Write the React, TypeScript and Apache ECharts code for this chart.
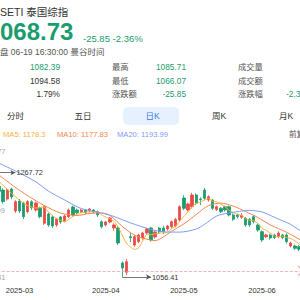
import React, { useEffect, useRef } from "react";
import * as echarts from "echarts";

const dates = [
  "2025-02-13","2025-02-14","2025-02-17","2025-02-18","2025-02-19","2025-02-20","2025-02-21","2025-02-24","2025-02-25","2025-02-26","2025-02-27","2025-02-28",
  "2025-03-03","2025-03-04","2025-03-05","2025-03-06","2025-03-07","2025-03-10","2025-03-11","2025-03-12","2025-03-13","2025-03-14","2025-03-17","2025-03-18","2025-03-19","2025-03-20","2025-03-21","2025-03-24","2025-03-25","2025-03-26","2025-03-27","2025-03-28","2025-03-31",
  "2025-04-01","2025-04-02","2025-04-03","2025-04-04","2025-04-08","2025-04-09","2025-04-10","2025-04-11","2025-04-16","2025-04-17","2025-04-18","2025-04-21","2025-04-22","2025-04-23","2025-04-24","2025-04-25","2025-04-28","2025-04-29","2025-04-30",
  "2025-05-02","2025-05-06","2025-05-07","2025-05-08","2025-05-09","2025-05-13","2025-05-14","2025-05-15","2025-05-16","2025-05-19","2025-05-20","2025-05-21","2025-05-22","2025-05-23","2025-05-26","2025-05-27","2025-05-28","2025-05-29","2025-05-30",
  "2025-06-02","2025-06-04","2025-06-05","2025-06-06","2025-06-09","2025-06-10","2025-06-11","2025-06-12","2025-06-13","2025-06-16","2025-06-17","2025-06-18","2025-06-19",
];

const opens = [1262,1255,1258,1252,1259,1260,1249,1240,1232.6,1214.4,1234.6,1190.1,
  1210.4,1206.3,1188.7,1208.9,1192.1,1196.2,1165.2,1184,1178,1161.8,1178,1170.4,1178.6,1198.2,1192.1,1188.5,1192.1,1190.1,1192.1,1188.5,1168.4,
  1161.8,1167.8,1155.7,1155.7,1084.8,1066,1138,1121.2,1128,1135.4,1145.5,1155.7,1137.5,1155.7,1155.5,1153.6,1158.3,1159.7,1171.9,
  1216.4,1192.1,1198.8,1222.5,1214.4,1232.6,1212.4,1212.4,1193.1,1195.6,1198.8,1198.8,1182,1182,1177.5,1175.3,1173.3,1178.6,1161.8,
  1148.2,1138.1,1141.5,1141.5,1138.1,1141.5,1141.5,1119.2,1119.2,1117.8,1112,1102,1082.39];
const closes = [1255,1260,1252,1259,1262,1250,1243,1230,1209,1232.6,1218.4,1208.9,
  1190.1,1178.6,1208.9,1196.2,1206.3,1178.6,1198.8,1161.8,1159.7,1173.9,1167.8,1180,1192.1,1182,1186.7,1192.1,1186.7,1194.1,1188.1,1182,1158.3,
  1167.9,1175.9,1161.8,1125.3,1074.7,1087.4,1136,1138.1,1141.5,1145.5,1153.6,1131.4,1147.6,1147.6,1148,1159.7,1168.4,1173.3,1198.8,
  1195.6,1204.3,1222.5,1205.7,1213,1215.8,1219.1,1195.6,1198.8,1188.7,1192.1,1182,1173.3,1178.6,1181,1161.8,1161.8,1168.4,1151.6,
  1131.4,1141.5,1135.4,1136.4,1145.5,1136.4,1127.9,1125.3,1114.6,1112.5,1103,1094.58,1068.73];
const lows = [1250,1250,1247,1249,1254,1246,1238,1226,1205,1211,1214,1186,
  1186,1173.9,1185,1192,1189,1175,1162,1158,1156,1158,1164,1167,1176,1179,1184,1186,1184,1187,1185,1178,1155,
  1159,1165,1150,1121,1056.41,1060,1127,1118,1125,1132,1142,1128,1134,1144,1143,1150,1155,1157,1169,
  1192,1189,1195,1202,1202,1212,1209,1192,1190,1186,1189,1179,1170,1175,1174,1158,1158,1165,1148,
  1127,1135,1132,1133,1135,1133,1124,1116,1111,1109,1099,1090,1066.07];
const highs = [1265,1263,1262,1262,1267.72,1263,1252,1243,1236,1236,1237.3,1212,
  1214.4,1209,1212,1212,1209,1199,1201,1187,1181,1176,1180,1183,1195,1201,1195,1194,1194,1196,1194,1191,1171,
  1170,1178,1165,1160,1088,1093,1146,1141,1144,1148,1156,1158,1150,1158,1160,1162,1171,1176,1202,
  1222,1207,1227,1226,1218,1236.7,1222,1214,1201,1198,1201,1201,1185,1185,1186,1178,1176,1182,1165,
  1151,1144,1144,1144,1149,1144,1145,1128,1122,1121,1115,1106,1085.71];

// moving averages: [candle index, value]
const ma5 = [[7,1250],[10,1226.6],[12,1211.8],[14,1201],[16,1196],[18,1197.8],[19,1188.3],[21,1174.6],[23,1168.6],[25,1179.2],[27,1186.6],[29,1188.3],[31,1188.6],[32,1181.8],[33,1178],[34,1174.4],[35,1169],[36,1157.8],[37,1141.1],[38,1125],[39,1117],[40,1112.3],[41,1115.5],[42,1129.7],[43,1142.9],[44,1142],[45,1143.9],[46,1145.1],[47,1145.6],[48,1146.9],[49,1154.3],[50,1159.4],[51,1169.6],[52,1179.2],[53,1188.1],[54,1198.9],[55,1205.4],[56,1208.2],[57,1212.3],[58,1215.2],[59,1209.8],[60,1208.5],[61,1203.6],[62,1198.9],[63,1191.4],[64,1187],[65,1182.9],[66,1181.4],[67,1175.3],[68,1171.3],[69,1170.3],[70,1164.9],[71,1155],[72,1150.9],[73,1145.7],[74,1139.3],[75,1138],[76,1139],[77,1136.3],[78,1134.3],[79,1129.9],[80,1123.3],[81,1116.7],[82,1110],[83,1098.7]];
const ma10 = [[7,1263],[12,1232],[17,1206],[21,1189],[23,1184],[26,1181],[29,1185],[32,1186],[34,1181],[37,1159],[40,1141],[43,1133],[45,1130],[47,1137.5],[49,1149],[52,1164],[55,1183],[58,1201],[61,1206],[64,1200],[67,1189],[70,1177],[73,1162],[77,1147],[80,1133],[83,1116]];
const ma20 = [[7,1287],[12,1267],[16,1249],[19,1230.6],[23,1212.4],[27,1195.2],[32,1186],[35,1179],[39,1166],[44,1152.6],[47,1148],[51,1147.3],[55,1153.6],[57,1162.8],[60,1180],[63,1186],[68,1191.2],[71,1188.1],[74,1177.5],[78,1162.8],[80,1152],[81,1148],[82,1143],[83,1137]];

const yTicks = [1056.41, 1191.09, 1325.77];
const lastPrice = 1068.73;
const maxPoint = { idx: 4, value: 1267.72 };
const minPoint = { idx: 37, value: 1056.41 };
const monthStartIdx = [12, 33, 52, 71];

const infoValues1 = ["1082.39", "1094.58", "1.79%"];
const infoLabels2 = ["最高", "最低", "涨跌额"];
const infoValues2 = ["1085.71", "1066.07", "-25.85"];
const infoLabels3 = ["成交量", "成交额", "涨跌幅"];
const tabs = ["分时", "五日", "日K", "周K", "月K"];
const legendItems = ["MA5: 1178.3", "MA10: 1177.83", "MA20: 1193.99"];

const RED = "#ec4b45";
const GREEN = "#1b9c6e";
const C5 = "#f5b13d";
const C10 = "#f3864f";
const C20 = "#7f9cf2";
const FONT = '"Liberation Sans", Arial, "Noto Sans CJK SC", sans-serif';

const STEP = 4.11;
const GRID_LEFT = 19.5 - (12 + 0.5) * STEP;
const GRID_W = dates.length * STEP;

export default function App() {
  const ref = useRef<HTMLDivElement>(null);
  useEffect(() => {
    if (!ref.current) return;
    const chart = echarts.init(ref.current, null, { renderer: "svg" });
    const ohlc = dates.map((_, i) => [opens[i], closes[i], lows[i], highs[i]]);
    const txt = (x: number, y: number, text: string, size: number, fill: string, align = "left", weight = "normal") => ({
      type: "text",
      x,
      y,
      silent: true,
      style: { text, fontSize: size, fill, align, verticalAlign: "middle", fontFamily: FONT, fontWeight: weight },
    });
    const rows = [66.7, 80.7, 94.3];
    const graphics: any[] = [
      txt(0, 12, "SETI 泰国综指", 10.5, "#333"),
      txt(0, 31.5, "068.73", 24, GREEN, "left", "bold"),
      txt(83, 38.5, "-25.85 -2.36%", 9.5, GREEN),
      txt(0, 51.7, "盘 06-19 16:30:00 曼谷时间", 8.5, "#555"),
      { type: "rect", shape: { x: 123, y: 107, width: 56, height: 18, r: 5 }, style: { fill: "#e7f0fe" }, silent: true },
    ];
    infoValues1.forEach((v, i) => graphics.push(txt(60, rows[i], v, 8.3, i === 0 ? GREEN : "#333", "right")));
    infoLabels2.forEach((v, i) => graphics.push(txt(112, rows[i], v, 8.3, "#555")));
    infoValues2.forEach((v, i) => graphics.push(txt(186, rows[i], v, 8.3, GREEN, "right")));
    infoLabels3.forEach((v, i) => graphics.push(txt(238, rows[i], v, 8.3, "#555")));
    graphics.push(txt(286, rows[2], "-2.3", 8.3, GREEN));
    const tabX = [15.5, 83, 152.5, 219, 286];
    tabs.forEach((t, i) => graphics.push(txt(tabX[i], 116, t, 8.5, i === 2 ? "#3a7af3" : "#333", "center")));
    const legX = [3, 57, 117];
    const legC = [C5, C10, C20];
    legendItems.forEach((t, i) => graphics.push(txt(legX[i], 134.5, t, 7.6, legC[i])));
    graphics.push(txt(289, 134.5, "前复", 7.6, "#555"));

    const markerLine = (p: { idx: number; value: number }) => [
      { coord: [p.idx, p.value], symbol: "none" },
      { coord: [p.idx + 7.1, p.value], symbol: "arrow", symbolSize: [4, 5] },
    ];

    chart.setOption({
      animation: false,
      backgroundColor: "#ffffff",
      textStyle: { fontFamily: FONT },
      grid: { left: GRID_LEFT, width: GRID_W, top: 144, height: 133, containLabel: false, outerBoundsMode: "none" },
      xAxis: {
        type: "category",
        data: dates,
        boundaryGap: true,
        axisLine: { show: false },
        axisTick: { show: false },
        splitLine: { show: false },
        axisLabel: {
          interval: (i: number) => monthStartIdx.includes(i),
          formatter: (v: string) => v.slice(0, 7),
          fontSize: 7.5,
          color: "#333",
          margin: 10,
          hideOverlap: false,
        },
      },
      yAxis: {
        type: "value",
        min: yTicks[0],
        max: yTicks[2],
        interval: yTicks[1] - yTicks[0],
        splitLine: { show: false },
        axisLine: { show: false },
        axisTick: { show: false },
        axisLabel: {
          inside: true,
          margin: 10,
          fontSize: 7.6,
          color: "#a8a8a8",
          formatter: (v: number) => (v > yTicks[2] - 1 ? `{t|${v.toFixed(2)}}` : v.toFixed(2)),
          rich: { t: { padding: [14, 0, 0, 0], fontSize: 7.6, color: "#a8a8a8" } },
        },
      },
      series: [
        {
          type: "candlestick",
          data: ohlc,
          barWidth: 2.8,
          itemStyle: { color: RED, color0: GREEN, borderColor: RED, borderColor0: GREEN, borderWidth: 0.8 },
          markLine: {
            silent: true,
            animation: false,
            data: [
              {
                yAxis: lastPrice,
                symbol: "none",
                lineStyle: { color: "#f3a3a3", type: "dashed", width: 0.8 },
                label: { show: false },
              },
              [
                { ...markerLine(maxPoint)[0], lineStyle: { color: "#555", type: "solid", width: 0.8 }, label: { show: true, position: "end", formatter: String(maxPoint.value), color: "#333", fontSize: 7.3, distance: 1 } },
                markerLine(maxPoint)[1],
              ],
              [
                { ...markerLine(minPoint)[0], lineStyle: { color: "#555", type: "solid", width: 0.8 }, label: { show: true, position: "end", formatter: String(minPoint.value), color: "#333", fontSize: 7.3, distance: 1 } },
                markerLine(minPoint)[1],
              ],
            ],
          },
        },
        { type: "line", data: ma5, symbol: "none", lineStyle: { color: C5, width: 1 }, smooth: 0.2 },
        { type: "line", data: ma10, symbol: "none", lineStyle: { color: C10, width: 1 }, smooth: 0.3 },
        { type: "line", data: ma20, symbol: "none", lineStyle: { color: C20, width: 1 }, smooth: 0.3 },
      ],
      graphic: graphics,
    });
    return () => chart.dispose();
  }, []);
  return (
    <div style={{ position: "fixed", left: 0, top: 0, width: 300, height: 300, overflow: "hidden", background: "#fff" }}>
      <div ref={ref} style={{ width: 300, height: 300 }} />
    </div>
  );
}
